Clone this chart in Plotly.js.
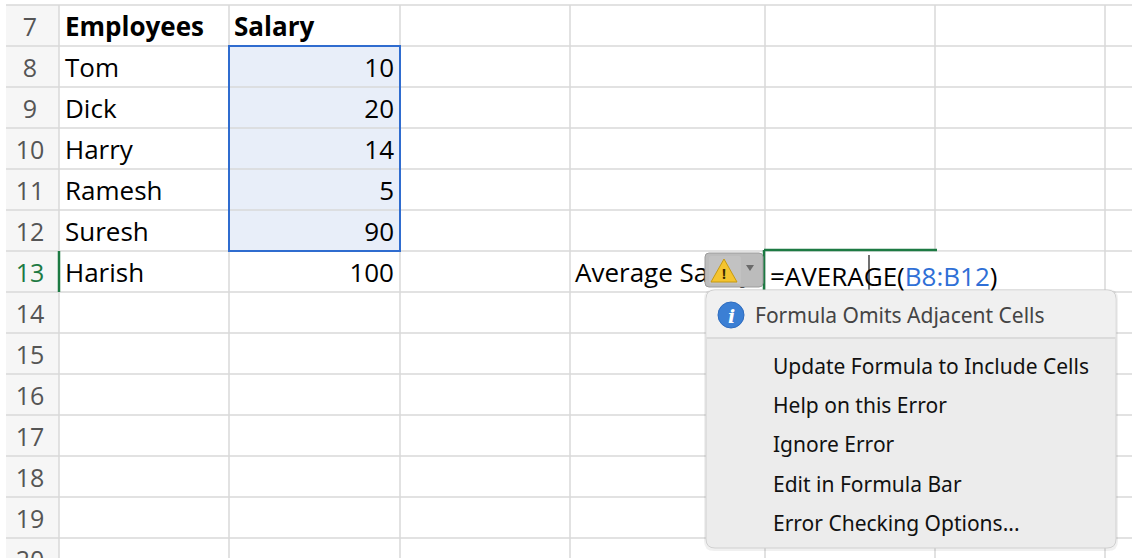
<!DOCTYPE html>
<html>
<head>
<meta charset="utf-8">
<script src="https://cdn.plot.ly/plotly-3.0.1.min.js"></script>
<style>
  html, body { margin: 0; padding: 0; background: #ffffff; }
  #sheet { width: 1132px; height: 558px; }
</style>
</head>
<body>
<div id="sheet"></div>
<script>
// sheet contents
var rowNumbers = [7, 8, 9, 10, 11, 12, 13, 14, 15, 16, 17, 18, 19, 20];
var headers = ['Employees', 'Salary'];
var employees = ['Tom', 'Dick', 'Harry', 'Ramesh', 'Suresh', 'Harish'];
var salaries = [10, 20, 14, 5, 90, 100];
var labelCell = 'Average Salary';
var formulaFn = '=AVERAGE(';
var formulaRange = 'B8:B12';
var menuTitle = 'Formula Omits Adjacent Cells';
var menuItems = ['Update Formula to Include Cells', 'Help on this Error', 'Ignore Error',
                 'Edit in Formula Bar', 'Error Checking Options...'];

// geometry (x in pixels, y in row units, one row = 41px)
var ROW_H = 41;
var Y0 = 7 - 0.5 - 5 / ROW_H;           // value at the top edge of the picture
var Y1 = Y0 + 558 / ROW_H;
var TXT_DY = 0.1;                        // cell text sits a little below row centre
function py(p) { return Y0 + p / ROW_H; }
var colEdges = [59, 229, 400, 570, 765, 935, 1105];
var gridColor = '#d8d8d8';
var cellFont = '"Open Sans", Lato, sans-serif';
var cellSize = 26;
var uiFont = '"Noto Sans", Roboto, sans-serif';

function roundRect(x0, p0, x1, p1, r) {
  var ry = r / ROW_H;
  var y0 = py(p0), y1 = py(p1);
  return 'M' + (x0 + r) + ',' + y0 + ' L' + (x1 - r) + ',' + y0 +
    ' Q' + x1 + ',' + y0 + ' ' + x1 + ',' + (y0 + ry) +
    ' L' + x1 + ',' + (y1 - ry) + ' Q' + x1 + ',' + y1 + ' ' + (x1 - r) + ',' + y1 +
    ' L' + (x0 + r) + ',' + y1 + ' Q' + x0 + ',' + y1 + ' ' + x0 + ',' + (y1 - ry) +
    ' L' + x0 + ',' + (y0 + ry) + ' Q' + x0 + ',' + y0 + ' ' + (x0 + r) + ',' + y0 + ' Z';
}

var shapes = [];
// row header background
shapes.push({type: 'rect', layer: 'below', x0: 6, x1: 59, y0: 6.5, y1: Y1,
  fillcolor: '#f6f6f6', line: {width: 0}});
// selection fill B8:B12
shapes.push({type: 'rect', layer: 'below', x0: 229, x1: 400, y0: 7.5, y1: 12.5,
  fillcolor: '#e8eef9', line: {width: 0}});
// horizontal grid lines
for (var r = 6; r <= 19; r++) {
  shapes.push({type: 'line', layer: 'below', x0: 6, x1: 1132, y0: r + 0.5, y1: r + 0.5,
    line: {color: gridColor, width: 1.5}});
}
// vertical grid lines
colEdges.forEach(function (cx) {
  shapes.push({type: 'line', layer: 'below', x0: cx, x1: cx, y0: 6.5, y1: Y1,
    line: {color: gridColor, width: 1.5}});
});
// formula cell overflow (covers grid lines in row 13)
shapes.push({type: 'rect', layer: 'below', x0: 766, x1: 1104, y0: 12.52, y1: 13.48,
  fillcolor: '#ffffff', line: {width: 0}});
// selection border
shapes.push({type: 'rect', layer: 'below', x0: 229, x1: 400, y0: 7.5, y1: 12.5,
  line: {color: '#2f6ccf', width: 2}});
// active row marker and active cell edges
shapes.push({type: 'line', x0: 59, x1: 59, y0: 12.5, y1: 13.5, line: {color: '#1d7a43', width: 2.5}});
shapes.push({type: 'line', x0: 764, x1: 937, y0: py(250), y1: py(250), line: {color: '#1d7a43', width: 2.5}});
shapes.push({type: 'line', x0: 764, x1: 764, y0: py(250), y1: py(291), line: {color: '#1d7a43', width: 2.5}});
// text cursor
shapes.push({type: 'line', x0: 869, x1: 869, y0: py(255), y1: py(290), line: {color: '#111111', width: 1.2}});
// warning button
shapes.push({type: 'path', path: roundRect(705, 253, 763, 287, 4),
  fillcolor: '#bcbcbc', line: {color: '#9c9c9c', width: 1}});
shapes.push({type: 'path', path: roundRect(709, 256, 741, 284, 2),
  fillcolor: '#c2c2c2', line: {width: 0}});
shapes.push({type: 'path',
  path: 'M724,' + py(259) + ' L737,' + py(282) + ' L711,' + py(282) + ' Z',
  fillcolor: '#f4c430', line: {color: '#c79a10', width: 1}});
shapes.push({type: 'path',
  path: 'M746,' + py(265) + ' L754,' + py(265) + ' L750,' + py(271) + ' Z',
  fillcolor: '#6a6a6a', line: {width: 0}});
// popup shadow and body
shapes.push({type: 'path', path: roundRect(704, 289, 1118, 551, 10),
  fillcolor: 'rgba(0,0,0,0.06)', line: {width: 0}});
shapes.push({type: 'path', path: roundRect(706, 290, 1116, 548, 9),
  fillcolor: '#ececec', line: {color: '#d0d0d0', width: 1}});
shapes.push({type: 'path',
  path: 'M715,' + py(290.5) + ' L1107,' + py(290.5) + ' Q1115.5,' + py(290.5) + ' 1115.5,' + py(299) +
        ' L1115.5,' + py(337) + ' L706.5,' + py(337) + ' L706.5,' + py(299) +
        ' Q706.5,' + py(290.5) + ' 715,' + py(290.5) + ' Z',
  fillcolor: '#f0f0f0', line: {width: 0}});
shapes.push({type: 'line', x0: 707, x1: 1115, y0: py(338), y1: py(338),
  line: {color: '#d6d6d6', width: 1.5}});
// info icon
shapes.push({type: 'circle', x0: 718, x1: 744, y0: py(302), y1: py(328),
  fillcolor: '#3b7fd4', line: {color: '#2e6cbf', width: 1}});

// cell texts
var traces = [];
traces.push({
  x: rowNumbers.map(function () { return 30; }),
  y: rowNumbers.map(function (n) { return n + TXT_DY; }),
  text: rowNumbers.map(String), mode: 'text', textposition: 'middle center',
  textfont: {family: cellFont, size: 25,
    color: rowNumbers.map(function (n) { return n === 13 ? '#1d7a43' : '#555555'; })},
  cliponaxis: true, hoverinfo: 'skip'
});
traces.push({
  x: [65, 234], y: [7 + TXT_DY, 7 + TXT_DY],
  text: headers.map(function (h) { return '<b>' + h + '</b>'; }),
  mode: 'text', textposition: 'middle right',
  textfont: {family: cellFont, size: cellSize, color: '#000000'}, hoverinfo: 'skip'
});
traces.push({
  x: employees.map(function () { return 65; }),
  y: employees.map(function (e, i) { return 8 + i + TXT_DY; }),
  text: employees, mode: 'text', textposition: 'middle right',
  textfont: {family: cellFont, size: cellSize, color: '#000000'}, hoverinfo: 'skip'
});
traces.push({
  x: salaries.map(function () { return 394; }),
  y: salaries.map(function (s, i) { return 8 + i + TXT_DY; }),
  text: salaries.map(String), mode: 'text', textposition: 'middle left',
  textfont: {family: cellFont, size: cellSize, color: '#000000'}, hoverinfo: 'skip'
});
traces.push({
  x: [575], y: [13 + TXT_DY], text: [labelCell], mode: 'text', textposition: 'middle right',
  textfont: {family: cellFont, size: cellSize, color: '#000000'}, hoverinfo: 'skip'
});

// overlay texts
var annotations = [];
annotations.push({x: 768, y: 13 + TXT_DY, xref: 'x', yref: 'y', xanchor: 'left', yanchor: 'middle',
  text: formulaFn + '<span style="color:#2f6fd6">' + formulaRange + '</span>)',
  showarrow: false, font: {family: cellFont, size: cellSize, color: '#000000'}});
annotations.push({x: 724, y: py(273), xref: 'x', yref: 'y', xanchor: 'center', yanchor: 'middle',
  text: '<b>!</b>', showarrow: false, font: {family: uiFont, size: 14, color: '#3a2a00'}});
annotations.push({x: 731, y: py(315.5), xref: 'x', yref: 'y', xanchor: 'center', yanchor: 'middle',
  text: '<b><i>i</i></b>', showarrow: false, font: {family: 'DejaVu Serif, serif', size: 19, color: '#ffffff'}});
annotations.push({x: 753, y: py(315), xref: 'x', yref: 'y', xanchor: 'left', yanchor: 'middle',
  text: menuTitle, showarrow: false, font: {family: uiFont, size: 21, color: '#444444'}});
menuItems.forEach(function (item, i) {
  annotations.push({x: 771, y: py(366 + i * 39.2), xref: 'x', yref: 'y', xanchor: 'left', yanchor: 'middle',
    text: item, showarrow: false, font: {family: uiFont, size: 21, color: '#111111'}});
});

var layout = {
  width: 1132, height: 558,
  margin: {l: 0, r: 0, t: 0, b: 0, pad: 0},
  paper_bgcolor: '#ffffff', plot_bgcolor: '#ffffff',
  showlegend: false, hovermode: false,
  xaxis: {range: [0, 1132], visible: false, fixedrange: true},
  yaxis: {range: [Y1, Y0], visible: false, fixedrange: true},
  shapes: shapes,
  annotations: annotations
};

Plotly.newPlot('sheet', traces, layout, {staticPlot: true, displayModeBar: false});
</script>
</body>
</html>
